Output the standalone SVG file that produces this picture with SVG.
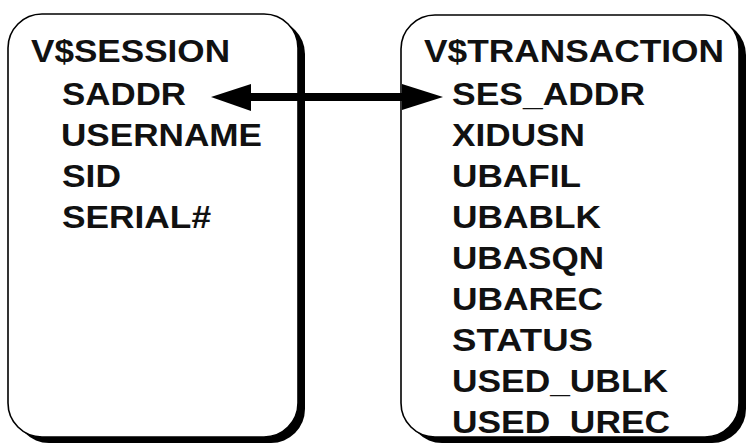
<svg xmlns="http://www.w3.org/2000/svg" width="746" height="443" viewBox="0 0 746 443">
  <style>
    .shadow { fill: #000; }
    .box { fill: #fff; stroke: #000; stroke-width: 1.6; }
    .t { font-family: "Liberation Sans", Arial, Helvetica, sans-serif; font-weight: bold; font-size: 32px; fill: #111; }
    .conn { stroke: #000; stroke-width: 8; fill: none; }
    .head { fill: #000; }
  </style>
  <rect x="0" y="0" width="746" height="443" fill="#fff"/>
  <g id="v_session">
    <rect class="shadow" x="15" y="20" width="290" height="423" rx="34" ry="34"/>
    <rect class="box" x="8" y="14" width="290" height="423" rx="34" ry="34"/>
    <text class="t" x="31" y="62" textLength="199" lengthAdjust="spacingAndGlyphs">V$SESSION</text>
    <text class="t" x="62" y="105" textLength="124" lengthAdjust="spacingAndGlyphs">SADDR</text>
    <text class="t" x="61" y="146" textLength="201" lengthAdjust="spacingAndGlyphs">USERNAME</text>
    <text class="t" x="62" y="187" textLength="59" lengthAdjust="spacingAndGlyphs">SID</text>
    <text class="t" x="62" y="228" textLength="149" lengthAdjust="spacingAndGlyphs">SERIAL#</text>
  </g>
  <g id="v_transaction">
    <rect class="shadow" x="408" y="21" width="338" height="422" rx="34" ry="34"/>
    <rect class="box" x="401" y="15" width="338" height="422" rx="34" ry="34"/>
    <text class="t" x="424" y="62" textLength="300" lengthAdjust="spacingAndGlyphs">V$TRANSACTION</text>
    <text class="t" x="452" y="105" textLength="193" lengthAdjust="spacingAndGlyphs">SES_ADDR</text>
    <text class="t" x="452" y="146" textLength="133" lengthAdjust="spacingAndGlyphs">XIDUSN</text>
    <text class="t" x="452" y="187" textLength="129" lengthAdjust="spacingAndGlyphs">UBAFIL</text>
    <text class="t" x="452" y="228" textLength="149" lengthAdjust="spacingAndGlyphs">UBABLK</text>
    <text class="t" x="452" y="269" textLength="152" lengthAdjust="spacingAndGlyphs">UBASQN</text>
    <text class="t" x="452" y="310" textLength="151" lengthAdjust="spacingAndGlyphs">UBAREC</text>
    <text class="t" x="452" y="351" textLength="141" lengthAdjust="spacingAndGlyphs">STATUS</text>
    <text class="t" x="452" y="392" textLength="216" lengthAdjust="spacingAndGlyphs">USED_UBLK</text>
    <text class="t" x="452" y="433" textLength="218" lengthAdjust="spacingAndGlyphs">USED_UREC</text>
  </g>
  <g id="connectors">
    <line class="conn" x1="248" y1="97" x2="404" y2="97"/>
    <polygon class="head" points="211,97 251,84 251,111"/>
    <polygon class="head" points="443,97 402,84 402,110"/>
  </g>
</svg>
